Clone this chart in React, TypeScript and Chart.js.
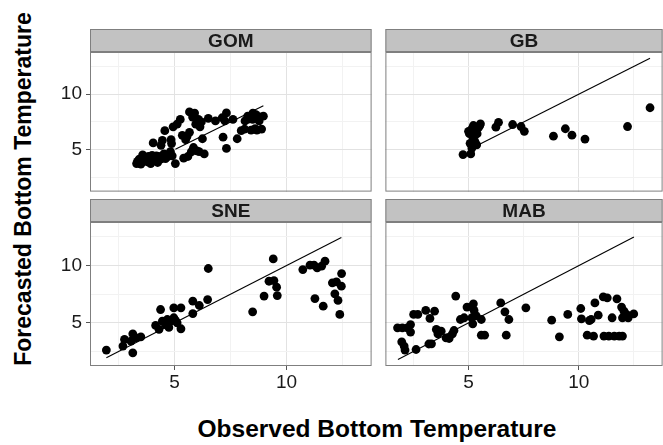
import React, { useEffect, useRef } from "react";
import { Chart, registerables } from "chart.js";

Chart.register(...registerables);

// ---------- data ----------
const axisMin = 1.23;
const axisMax = 13.8;
const tickValues = [2.5, 5, 7.5, 10, 12.5];
const labeledTicks = [5, 10];

const xTitle = "Observed Bottom Temperature";
const yTitle = "Forecasted Bottom Temperature";

const gomObserved = [3.31, 3.43, 3.58, 3.7, 3.84, 3.94, 4.05, 4.05, 4.19, 4.38, 4.46, 4.53, 4.57, 4.72, 4.82, 4.9, 4.94, 5.04, 4.87, 5.12, 5.26, 5.41, 5.6, 5.56, 5.67, 5.67, 5.81, 5.85, 5.95, 6.07, 6.14, 6.25, 6.1, 6.33, 6.51, 6.83, 7.17, 7.13, 7.32, 7.32, 7.61, 7.8, 7.98, 8.15, 8.27, 8.49, 8.64, 8.78, 8.89, 8.68, 8.42, 8.97, 8.13, 3.35, 3.5, 3.65, 3.8, 4.0, 4.25, 4.3, 4.6, 4.75, 4.85, 4.4, 5.5, 5.9, 5.35, 5.75, 6.0, 6.2, 7.25, 8.5, 8.8, 8.3, 8.6];
const gomForecast = [3.75, 4.16, 4.53, 4.1, 4.39, 3.75, 4.16, 5.61, 4.45, 4.16, 5.84, 4.62, 6.72, 4.39, 4.83, 4.45, 7.06, 3.75, 5.55, 7.3, 7.73, 4.24, 4.39, 6.19, 6.57, 8.4, 7.94, 5.2, 7.3, 7.73, 7.06, 5.99, 4.83, 4.62, 7.82, 7.59, 6.13, 7.88, 8.31, 5.12, 7.73, 5.99, 6.72, 7.59, 8.02, 7.73, 8.17, 7.59, 6.86, 6.77, 6.77, 8.02, 6.86, 3.95, 3.7, 4.3, 3.9, 4.5, 3.85, 4.4, 4.2, 4.6, 5.9, 5.4, 5.9, 8.3, 6.3, 4.8, 4.9, 7.5, 7.6, 8.3, 7.95, 7.75, 6.9];
const gomLine = [5.04, 8.97];

const gbObserved = [4.75, 5.1, 5.15, 5.07, 5.29, 5.37, 5.04, 5.15, 5.22, 5.37, 5.51, 5.54, 5.39, 5.0, 5.29, 5.2, 5.45, 6.24, 6.36, 7.0, 7.38, 7.53, 8.85, 9.39, 9.69, 10.28, 12.21, 13.23];
const gbForecast = [4.56, 4.62, 5.15, 5.58, 5.73, 5.44, 6.45, 6.89, 7.18, 6.89, 7.18, 7.33, 6.45, 6.66, 6.31, 6.1, 7.0, 7.03, 7.47, 7.27, 7.09, 6.66, 6.22, 6.89, 6.31, 5.96, 7.09, 8.78];
const gbLine = [5.5, 13.23];

const sneObserved = [1.96, 2.7, 2.77, 3.14, 3.14, 3.06, 3.28, 3.5, 4.16, 4.31, 4.38, 4.46, 4.6, 4.68, 4.82, 4.97, 4.97, 5.12, 5.29, 5.29, 5.05, 4.75, 5.82, 5.82, 6.11, 6.48, 6.51, 8.49, 9.0, 9.41, 9.22, 9.44, 9.56, 9.59, 10.73, 11.05, 11.23, 11.27, 11.37, 11.57, 11.72, 11.64, 12.05, 12.23, 12.3, 12.16, 12.45, 12.38, 12.46];
const sneForecast = [2.62, 2.97, 3.55, 2.38, 4.04, 3.4, 3.69, 3.78, 4.77, 4.42, 6.16, 5.15, 4.85, 5.29, 5.15, 5.44, 6.31, 5.0, 6.31, 4.48, 5.2, 4.6, 6.89, 5.81, 6.51, 7.03, 9.74, 5.96, 7.33, 10.58, 8.63, 8.69, 8.11, 7.38, 9.65, 10.03, 10.03, 7.12, 9.8, 9.94, 10.38, 6.45, 8.49, 8.58, 6.95, 7.53, 8.2, 5.73, 9.3];
const sneLine = [1.96, 12.45];

const mabObserved = [1.78, 2.0, 2.22, 2.37, 2.37, 1.97, 2.08, 2.12, 2.62, 2.51, 2.7, 3.06, 3.25, 3.46, 3.32, 3.2, 3.54, 3.61, 3.76, 3.98, 4.12, 4.27, 4.34, 4.42, 4.63, 4.8, 4.93, 5.22, 5.25, 5.15, 5.19, 5.35, 5.58, 5.58, 5.73, 6.46, 6.65, 6.83, 6.71, 7.6, 8.77, 9.12, 9.5, 10.09, 10.12, 10.38, 10.48, 10.56, 10.67, 10.73, 10.88, 11.11, 11.29, 11.14, 11.36, 11.51, 11.61, 11.73, 11.83, 11.98, 11.94, 12.05, 11.98, 12.16, 12.24, 12.49];
const mabForecast = [4.56, 4.56, 4.56, 4.85, 4.19, 3.34, 2.97, 2.62, 2.67, 5.73, 5.73, 6.08, 5.38, 6.02, 3.17, 3.15, 4.42, 4.04, 4.27, 3.69, 3.63, 4.04, 4.33, 7.33, 5.29, 5.44, 6.37, 6.66, 6.08, 5.44, 4.91, 5.6, 5.29, 3.92, 3.92, 6.74, 5.96, 5.29, 3.92, 6.31, 5.23, 3.78, 5.73, 6.25, 5.35, 3.92, 5.2, 5.29, 3.84, 6.74, 5.67, 7.27, 7.18, 3.84, 3.84, 5.44, 3.84, 7.09, 3.84, 3.84, 6.37, 6.02, 5.44, 5.73, 5.44, 5.78];
const mabLine = [1.8, 12.5];

// ---------- style / layout ----------
const FONT = "'Liberation Sans', Arial, Helvetica, sans-serif";
const STRIP_H = 23;
const PLOT_W = 286;
const PLOT_H = 144;
const Y_AXIS_W = 50;
const X_AXIS_H = 35;
const STRIP_FILL = "#c2c2c2";
const BORDER = "#7f7f7f";
const TEXT = "#1a1a1a";

const facetPlugin = {
  id: "facet",
  afterDraw(chart: any, _args: any, opts: any) {
    const { ctx, chartArea: a } = chart;
    const w = a.right - a.left;
    const h = a.bottom - a.top;
    ctx.save();
    ctx.fillStyle = STRIP_FILL;
    ctx.fillRect(a.left, a.top - STRIP_H, w, STRIP_H);
    ctx.strokeStyle = BORDER;
    ctx.lineWidth = 1;
    ctx.strokeRect(a.left + 0.5, a.top - STRIP_H + 0.5, w - 1, STRIP_H - 1);
    ctx.strokeRect(a.left + 0.5, a.top + 0.5, w - 1, h - 1);
    ctx.fillStyle = TEXT;
    ctx.font = `bold 19px ${FONT}`;
    ctx.textAlign = "center";
    ctx.textBaseline = "middle";
    ctx.fillText(opts.label, a.left + w / 2, a.top - STRIP_H / 2 + 1);
    ctx.restore();
  },
};

type PanelProps = {
  label: string;
  observed: number[];
  forecast: number[];
  line: number[];
  plotLeft: number;
  stripTop: number;
  showX: boolean;
  showY: boolean;
};

function zeroPad(s: any) {
  s.paddingTop = 0;
  s.paddingBottom = 0;
  s.paddingLeft = 0;
  s.paddingRight = 0;
}

function Panel(p: PanelProps) {
  const ref = useRef<HTMLCanvasElement | null>(null);
  const yW = p.showY ? Y_AXIS_W : 0;
  const xH = p.showX ? X_AXIS_H : 0;
  const width = PLOT_W + yW;
  const height = STRIP_H + PLOT_H + xH;

  useEffect(() => {
    if (!ref.current) return;
    const gridColor = (ctx: any) =>
      ctx.tick && labeledTicks.includes(ctx.tick.value) ? "#e2e2e2" : "#f2f2f2";
    const tickColor = (ctx: any) =>
      ctx.tick && labeledTicks.includes(ctx.tick.value) ? "#555555" : "rgba(0,0,0,0)";
    const tickCb = (v: any) => (labeledTicks.includes(Number(v)) ? String(v) : "");
    const chart = new Chart(ref.current, {
      type: "scatter",
      data: {
        datasets: [
          {
            data: p.line.map((v) => ({ x: v, y: v })),
            showLine: true,
            borderColor: "#000",
            borderWidth: 1.1,
            pointRadius: 0,
            fill: false,
          } as any,
          {
            data: p.observed.map((x, i) => ({ x, y: p.forecast[i] })),
            pointRadius: 4.4,
            pointBackgroundColor: "#000",
            pointBorderWidth: 0,
            backgroundColor: "#000",
          },
        ],
      },
      options: {
        responsive: false,
        maintainAspectRatio: false,
        animation: false,
        events: [],
        layout: { padding: { top: STRIP_H, left: 0, right: 0, bottom: 0 } },
        plugins: {
          legend: { display: false },
          tooltip: { enabled: false },
          facet: { label: p.label },
        } as any,
        scales: {
          x: {
            type: "linear",
            min: axisMin,
            max: axisMax,
            afterBuildTicks: (s: any) => {
              s.ticks = tickValues.map((v) => ({ value: v }));
            },
            afterFit: (s: any) => {
              s.height = xH;
              zeroPad(s);
            },
            border: { display: false },
            grid: {
              color: gridColor,
              lineWidth: 1,
              drawTicks: p.showX,
              tickLength: 4,
              tickColor,
            },
            ticks: {
              display: p.showX,
              callback: tickCb,
              autoSkip: false,
              maxRotation: 0,
              padding: 1,
              color: TEXT,
              font: { family: FONT, size: 19 },
            },
          },
          y: {
            type: "linear",
            min: axisMin,
            max: axisMax,
            afterBuildTicks: (s: any) => {
              s.ticks = tickValues.map((v) => ({ value: v }));
            },
            afterFit: (s: any) => {
              s.width = yW;
              zeroPad(s);
            },
            border: { display: false },
            grid: {
              color: gridColor,
              lineWidth: 1,
              drawTicks: p.showY,
              tickLength: 4,
              tickColor,
            },
            ticks: {
              display: p.showY,
              callback: tickCb,
              autoSkip: false,
              padding: 4,
              color: TEXT,
              font: { family: FONT, size: 19 },
            },
          },
        },
      } as any,
      plugins: [facetPlugin],
    });
    return () => chart.destroy();
  }, []);

  return (
    <div
      style={{
        position: "absolute",
        left: p.plotLeft - yW,
        top: p.stripTop,
        width,
        height,
      }}
    >
      <canvas ref={ref} width={width} height={height} style={{ width, height, display: "block" }} />
    </div>
  );
}

export default function App() {
  return (
    <div
      style={{
        position: "absolute",
        left: 0,
        top: 0,
        width: 663,
        height: 445,
        overflow: "hidden",
        background: "#fff",
      }}
    >
      <Panel label="GOM" observed={gomObserved} forecast={gomForecast} line={gomLine} plotLeft={90} stripTop={29} showX={false} showY={true} />
      <Panel label="GB" observed={gbObserved} forecast={gbForecast} line={gbLine} plotLeft={381} stripTop={29} showX={false} showY={false} />
      <Panel label="SNE" observed={sneObserved} forecast={sneForecast} line={sneLine} plotLeft={90} stripTop={199} showX={true} showY={true} />
      <Panel label="MAB" observed={mabObserved} forecast={mabForecast} line={mabLine} plotLeft={381} stripTop={199} showX={true} showY={false} />
      <div
        style={{
          position: "absolute",
          left: 377,
          top: 429,
          transform: "translate(-50%, -50%)",
          whiteSpace: "nowrap",
          fontFamily: FONT,
          fontWeight: "bold",
          fontSize: 24.5,
          color: "#000",
          lineHeight: 1,
        }}
      >
        {xTitle}
      </div>
      <div
        style={{
          position: "absolute",
          left: 22.5,
          top: 189,
          transform: "translate(-50%, -50%) rotate(-90deg)",
          whiteSpace: "nowrap",
          fontFamily: FONT,
          fontWeight: "bold",
          fontSize: 23,
          color: "#000",
          lineHeight: 1,
        }}
      >
        {yTitle}
      </div>
    </div>
  );
}
